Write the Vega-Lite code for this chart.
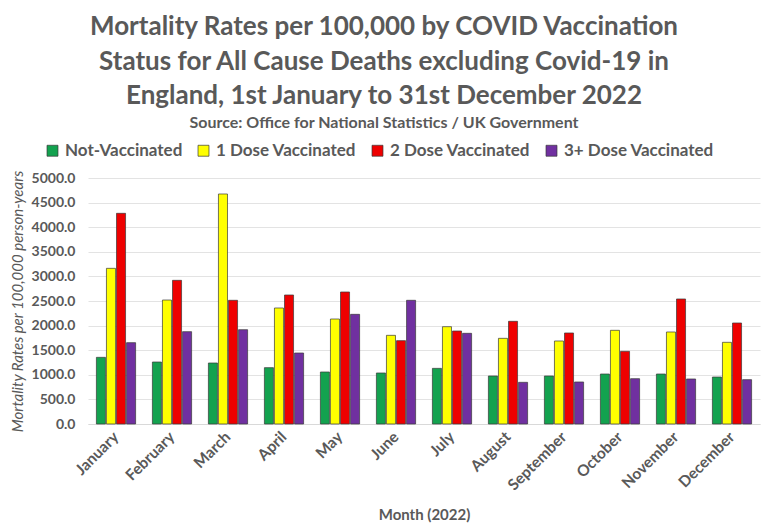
{
  "$schema": "https://vega.github.io/schema/vega-lite/v6.json",
  "width": 672,
  "height": 246,
  "autosize": {"type": "none"},
  "padding": {"left": 88, "top": 178, "right": 8, "bottom": 107},
  "background": "white",
  "config": {
    "font": "Lato",
    "view": {"stroke": null}
  },
  "title": {
    "text": [
      "Mortality Rates per 100,000 by COVID Vaccination",
      "Status for All Cause Deaths excluding Covid-19 in",
      "England, 1st January to 31st December 2022"
    ],
    "subtitle": "Source: Office for National Statistics / UK Government",
    "fontSize": 26,
    "lineHeight": 34.5,
    "fontWeight": "bold",
    "color": "#595959",
    "subtitleFontSize": 16,
    "subtitleFontWeight": "bold",
    "subtitleColor": "#595959",
    "subtitlePadding": 6,
    "anchor": "middle",
    "dx": -40,
    "offset": 11
  },
  "data": {
    "values": [
      {"month": "January", "status": "Not-Vaccinated", "rate": 1355},
      {"month": "January", "status": "1 Dose Vaccinated", "rate": 3164},
      {"month": "January", "status": "2 Dose Vaccinated", "rate": 4282},
      {"month": "January", "status": "3+ Dose Vaccinated", "rate": 1653},
      {"month": "February", "status": "Not-Vaccinated", "rate": 1260},
      {"month": "February", "status": "1 Dose Vaccinated", "rate": 2520},
      {"month": "February", "status": "2 Dose Vaccinated", "rate": 2920},
      {"month": "February", "status": "3+ Dose Vaccinated", "rate": 1877},
      {"month": "March", "status": "Not-Vaccinated", "rate": 1240},
      {"month": "March", "status": "1 Dose Vaccinated", "rate": 4675},
      {"month": "March", "status": "2 Dose Vaccinated", "rate": 2514},
      {"month": "March", "status": "3+ Dose Vaccinated", "rate": 1917},
      {"month": "April", "status": "Not-Vaccinated", "rate": 1145},
      {"month": "April", "status": "1 Dose Vaccinated", "rate": 2358},
      {"month": "April", "status": "2 Dose Vaccinated", "rate": 2622},
      {"month": "April", "status": "3+ Dose Vaccinated", "rate": 1443},
      {"month": "May", "status": "Not-Vaccinated", "rate": 1057},
      {"month": "May", "status": "1 Dose Vaccinated", "rate": 2134},
      {"month": "May", "status": "2 Dose Vaccinated", "rate": 2683},
      {"month": "May", "status": "3+ Dose Vaccinated", "rate": 2229},
      {"month": "June", "status": "Not-Vaccinated", "rate": 1037},
      {"month": "June", "status": "1 Dose Vaccinated", "rate": 1802},
      {"month": "June", "status": "2 Dose Vaccinated", "rate": 1694},
      {"month": "June", "status": "3+ Dose Vaccinated", "rate": 2514},
      {"month": "July", "status": "Not-Vaccinated", "rate": 1131},
      {"month": "July", "status": "1 Dose Vaccinated", "rate": 1978},
      {"month": "July", "status": "2 Dose Vaccinated", "rate": 1890},
      {"month": "July", "status": "3+ Dose Vaccinated", "rate": 1843},
      {"month": "August", "status": "Not-Vaccinated", "rate": 976},
      {"month": "August", "status": "1 Dose Vaccinated", "rate": 1741},
      {"month": "August", "status": "2 Dose Vaccinated", "rate": 2087},
      {"month": "August", "status": "3+ Dose Vaccinated", "rate": 847},
      {"month": "September", "status": "Not-Vaccinated", "rate": 976},
      {"month": "September", "status": "1 Dose Vaccinated", "rate": 1687},
      {"month": "September", "status": "2 Dose Vaccinated", "rate": 1850},
      {"month": "September", "status": "3+ Dose Vaccinated", "rate": 854},
      {"month": "October", "status": "Not-Vaccinated", "rate": 1016},
      {"month": "October", "status": "1 Dose Vaccinated", "rate": 1904},
      {"month": "October", "status": "2 Dose Vaccinated", "rate": 1477},
      {"month": "October", "status": "3+ Dose Vaccinated", "rate": 921},
      {"month": "November", "status": "Not-Vaccinated", "rate": 1016},
      {"month": "November", "status": "1 Dose Vaccinated", "rate": 1870},
      {"month": "November", "status": "2 Dose Vaccinated", "rate": 2541},
      {"month": "November", "status": "3+ Dose Vaccinated", "rate": 915},
      {"month": "December", "status": "Not-Vaccinated", "rate": 955},
      {"month": "December", "status": "1 Dose Vaccinated", "rate": 1660},
      {"month": "December", "status": "2 Dose Vaccinated", "rate": 2053},
      {"month": "December", "status": "3+ Dose Vaccinated", "rate": 901}
    ]
  },
  "mark": {"type": "bar", "stroke": "#3a3a3a", "strokeWidth": 0.7},
  "encoding": {
    "x": {
      "field": "month",
      "type": "nominal",
      "sort": ["January", "February", "March", "April", "May", "June", "July", "August", "September", "October", "November", "December"],
      "scale": {"paddingInner": 0.3, "paddingOuter": 0.15},
      "axis": {
        "title": "Month (2022)",
        "titleFontSize": 15,
        "titleFontWeight": "bold",
        "titleColor": "#595959",
        "titlePadding": 14,
        "labelAngle": -45,
        "labelAlign": "right",
        "labelBaseline": "middle",
        "labelFontSize": 15.5,
        "labelFontWeight": "bold",
        "labelColor": "#595959",
        "labelPadding": 10,
        "ticks": false,
        "domain": true,
        "domainColor": "#d9d9d9"
      }
    },
    "xOffset": {
      "field": "status",
      "type": "nominal",
      "sort": ["Not-Vaccinated", "1 Dose Vaccinated", "2 Dose Vaccinated", "3+ Dose Vaccinated"],
      "scale": {"paddingInner": 0.1, "paddingOuter": 0}
    },
    "y": {
      "field": "rate",
      "type": "quantitative",
      "scale": {"domain": [0, 5000]},
      "axis": {
        "title": "Mortality Rates per 100,000 person-years",
        "titleFontSize": 15,
        "titleFontStyle": "italic",
        "titleFontWeight": "normal",
        "titleColor": "#595959",
        "titlePadding": 6,
        "values": [0, 500, 1000, 1500, 2000, 2500, 3000, 3500, 4000, 4500, 5000],
        "format": ".1f",
        "labelFontSize": 14,
        "labelFontWeight": "bold",
        "labelColor": "#595959",
        "labelPadding": 13,
        "ticks": false,
        "domain": false,
        "gridColor": "#e3e3e3"
      }
    },
    "color": {
      "field": "status",
      "type": "nominal",
      "sort": ["Not-Vaccinated", "1 Dose Vaccinated", "2 Dose Vaccinated", "3+ Dose Vaccinated"],
      "scale": {
        "domain": ["Not-Vaccinated", "1 Dose Vaccinated", "2 Dose Vaccinated", "3+ Dose Vaccinated"],
        "range": ["#13a24f", "#ffff00", "#ee0000", "#7030a0"]
      },
      "legend": {
        "title": null,
        "orient": "none",
        "direction": "horizontal",
        "legendX": -44,
        "legendY": -36,
        "symbolType": "square",
        "symbolSize": 120,
        "symbolStrokeColor": "#3a3a3a",
        "symbolStrokeWidth": 0.7,
        "labelFontSize": 17,
        "labelFontWeight": "bold",
        "labelColor": "#595959",
        "labelLimit": 0,
        "labelOffset": 4,
        "columnPadding": 12
      }
    }
  }
}
